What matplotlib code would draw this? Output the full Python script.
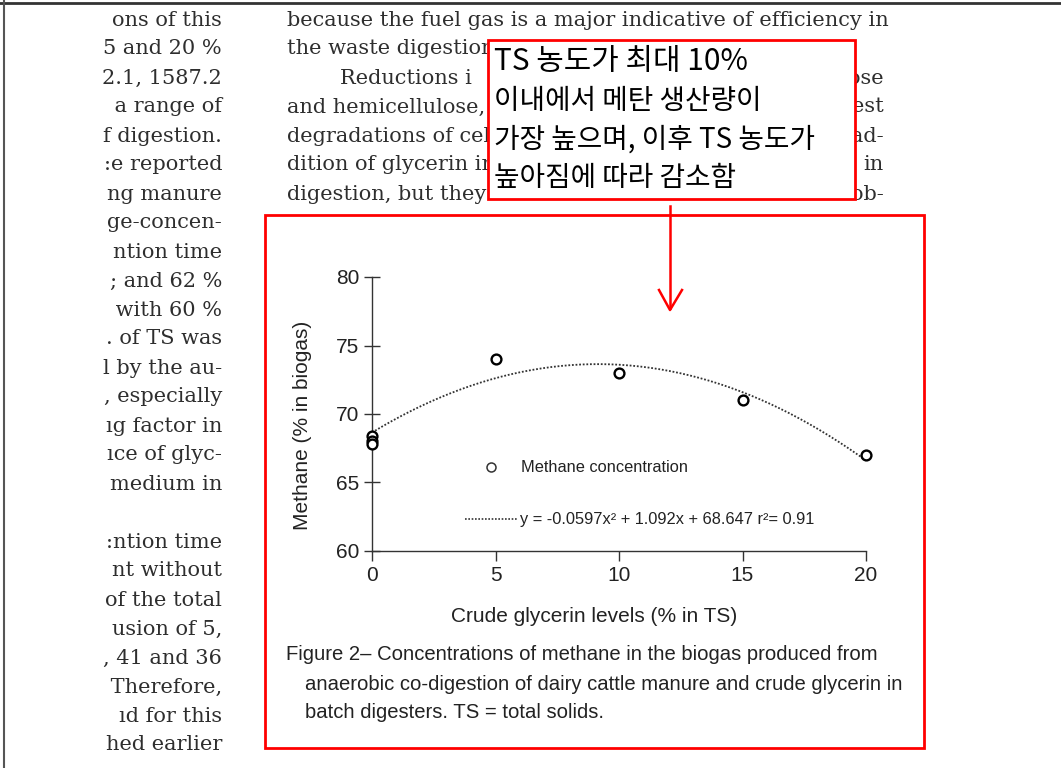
import numpy as np
import matplotlib
matplotlib.use("Agg")
import matplotlib.pyplot as plt
from matplotlib.patches import Rectangle

# ===== Chart data =====
glycerin = [0, 0, 0, 5, 10, 15, 20]                 # crude glycerin level (% in TS)
methane = [68.4, 68.0, 67.8, 74.0, 73.0, 71.0, 67.0]  # methane (% in biogas)
fit_coef = [-0.0597, 1.092, 68.647]                 # quadratic trend from the legend
x_ticks = [0, 5, 10, 15, 20]
y_ticks = [60, 65, 70, 75, 80]

fit_label = "y = -0.0597x² + 1.092x + 68.647 r²= 0.91"
point_label = "Methane concentration"
x_title = "Crude glycerin levels (% in TS)"
y_title = "Methane (% in biogas)"
caption = ["Figure 2– Concentrations of methane in the biogas produced from",
           "anaerobic co-digestion of dairy cattle manure and crude glycerin in",
           "batch digesters. TS = total solids."]

# surrounding page text (left column is cut off by the screenshot)
left_col = ["ons of this", "5 and 20 %", "2.1, 1587.2", " a range of", "f digestion.",
            ":e reported", "ng manure", "ge-concen-", "ntion time", "; and 62 %",
            " with 60 %", ". of TS was", "l by the au-", ", especially", "ıg factor in",
            "ıce of glyc-", "medium in", "", ":ntion time", "nt without",
            "of the total", "usion of 5,", ", 41 and 36", " Therefore,", "ıd for this",
            "hed earlier"]
right_col = ["because the fuel gas is a major indicative of efficiency in",
             "the waste digestion", "        Reductions i", "and hemicellulose,",
             "degradations of cel", "dition of glycerin ir", "digestion, but they"]
right_tail = ["", "", "ose", "est", "ad-", "in", "ob-"]

note = ["TS 농도가 최대 10%", "이내에서 메탄 생산량이", "가장 높으며, 이후 TS 농도가", "높아짐에 따라 감소함"]

W, H = 1061, 768
fig = plt.figure(figsize=(W / 100, H / 100), dpi=100)

# ===== Page layer (pixel coordinates) =====
page = fig.add_axes([0, 0, 1, 1])
page.set_xlim(0, W)
page.set_ylim(H, 0)
page.axis("off")
page.plot([0, W], [3, 3], color="#333333", lw=2)
page.plot([4, 4], [0, H], color="#555555", lw=1.5)

serif = dict(family="DejaVu Serif", fontsize=15.0, color="#2e2e2e", va="center")
for i, line in enumerate(left_col):
    page.text(222, 20 + i * 29.0, line, ha="right", **serif)
for i, line in enumerate(right_col):
    page.text(287, 20 + i * 29.0, line, ha="left", **serif)
for i, line in enumerate(right_tail):
    if line:
        page.text(884, 20 + i * 29.0, line, ha="right", **serif)

# ===== Chart =====
ax = fig.add_axes([372 / W, 1 - 551 / H, (866 - 372) / W, (551 - 277) / H])
ax.patch.set_visible(False)
xs = np.linspace(0, 20, 200)
ax.plot(xs, np.polyval(fit_coef, xs), color="#333333", lw=1.3, ls=(0, (1, 1)))
ax.scatter(glycerin, methane, s=50, facecolors="white", edgecolors="black",
           linewidths=1.7, zorder=3, clip_on=False)
ax.set_xlim(0, 20)
ax.set_ylim(60, 80)
ax.set_xticks(x_ticks)
ax.set_yticks(y_ticks)
for side in ["top", "right"]:
    ax.spines[side].set_visible(False)
for side in ["left", "bottom"]:
    ax.spines[side].set_color("#333333")
    ax.spines[side].set_linewidth(1.0)
ax.tick_params(axis="y", direction="inout", length=12, width=1, colors="#333333",
               labelsize=15, pad=3)
ax.tick_params(axis="x", direction="out", length=7, width=1, colors="#333333",
               labelsize=15, pad=4)
for lab in ax.get_xticklabels() + ax.get_yticklabels():
    lab.set_family("Liberation Sans")
    lab.set_color("#222222")

sans = dict(family="Liberation Sans", color="#222222", ha="center", va="center")
page.text(594, 617, x_title, fontsize=15, **sans)
page.text(302, 425, y_title, fontsize=15, rotation=90, **sans)

# in-plot legend
ax.scatter([4.8], [66.1], s=42, facecolors="white", edgecolors="#333333", linewidths=1.1)
ax.text(6.05, 66.1, point_label, family="Liberation Sans", fontsize=11.8, color="#222222",
        va="center")
ax.plot([3.75, 5.9], [62.3, 62.3], color="#333333", lw=1.2, ls=(0, (1, 1)))
ax.text(6.0, 62.3, fit_label, family="Liberation Sans", fontsize=11.8, color="#222222",
        va="center")

cap_font = dict(family="Liberation Sans", fontsize=14.6, color="#222222", va="center")
page.text(286, 655, caption[0], **cap_font)
page.text(305, 684, caption[1], **cap_font)
page.text(305, 713, caption[2], **cap_font)

# ===== Annotation layer =====
over = fig.add_axes([0, 0, 1, 1])
over.set_xlim(0, W)
over.set_ylim(H, 0)
over.axis("off")
over.patch.set_visible(False)
over.add_patch(Rectangle((265, 215), 659, 533, fill=False, edgecolor="#ff0000", lw=2))
over.add_patch(Rectangle((488, 40), 367, 159, facecolor="white", edgecolor="#ff0000", lw=2))
kfont = ["Noto Sans CJK KR", "DejaVu Sans"]
over.text(494, 62, note[0], family=kfont, fontsize=21.5, color="black", va="center")
for i, line in enumerate(note[1:]):
    over.text(494, 101 + i * 38.5, line, family=kfont, fontsize=20, color="black", va="center")
over.plot([670, 670], [206, 308], color="#ff0000", lw=1.8)
over.plot([659, 670, 682], [290, 310, 290], color="#ff0000", lw=1.8)

fig.savefig("out.png", dpi=100)
